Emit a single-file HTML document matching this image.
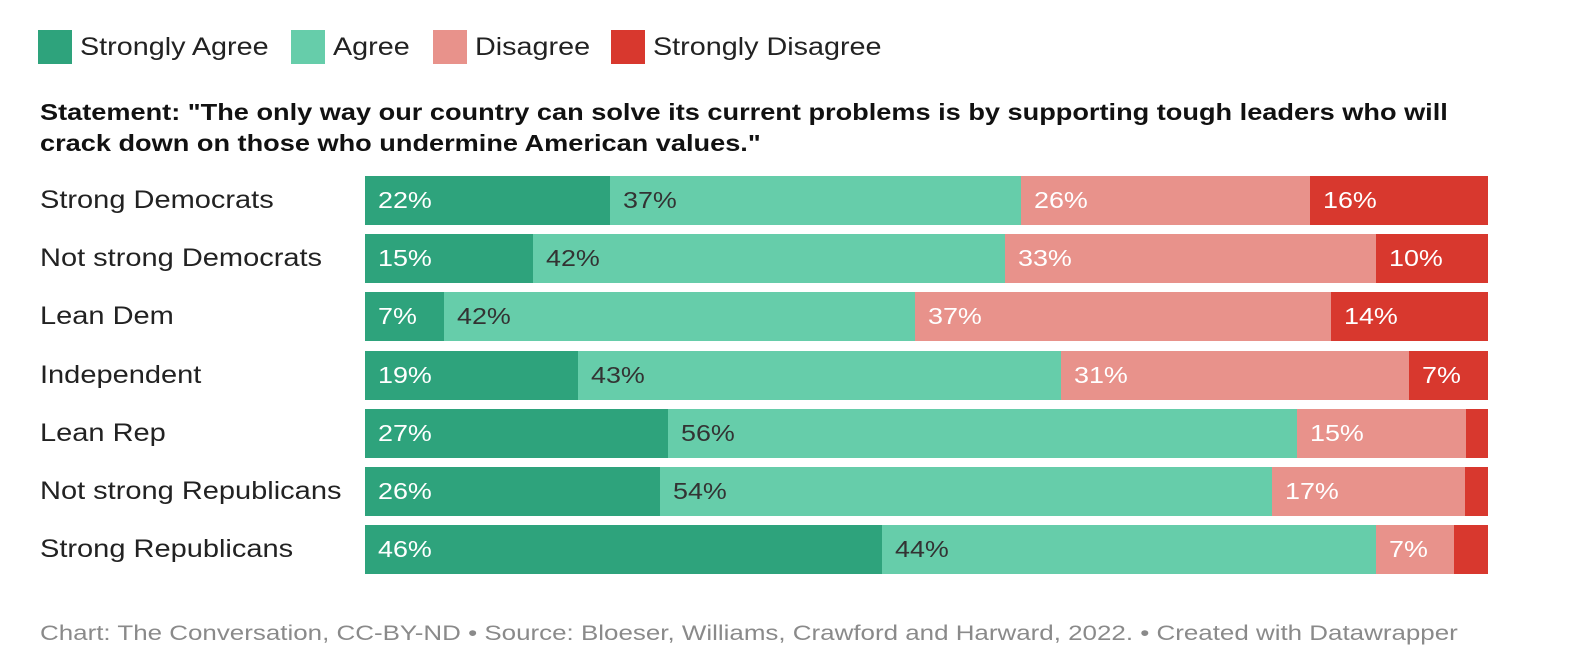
<!DOCTYPE html>
<html><head><meta charset="utf-8">
<style>
body{margin:0;width:1570px;height:670px;background:#fff;font-family:"Liberation Sans",Arial,sans-serif;position:relative;overflow:hidden;color:#222}
.leg{position:absolute;top:30px;height:34px}
.sw{position:absolute;left:0;top:0;width:34px;height:34px}
.lt{position:absolute;left:42px;top:0;line-height:34px;font-size:25px;color:#222;white-space:nowrap;transform:scaleX(1.15);transform-origin:0 50%}
.title{position:absolute;left:40px;top:97px;font-size:23px;font-weight:bold;line-height:31px;color:#111;white-space:nowrap;transform:scaleX(1.18);transform-origin:0 0}
.rl{position:absolute;left:40px;font-size:25px;color:#222;line-height:49px;white-space:nowrap;transform:scaleX(1.16);transform-origin:0 50%}
.seg{position:absolute;height:49px}
.val{position:absolute;font-size:23px;line-height:49px;white-space:nowrap;transform:scaleX(1.17);transform-origin:0 50%}
.foot{position:absolute;left:40px;top:622px;font-size:21px;color:#8a8a8a;white-space:nowrap;transform:scaleX(1.235);transform-origin:0 0}
</style></head><body>
<div class="leg" style="left:38px"><div class="sw" style="background:#2ea37c"></div><div class="lt">Strongly Agree</div></div>
<div class="leg" style="left:291px"><div class="sw" style="background:#66cdaa"></div><div class="lt">Agree</div></div>
<div class="leg" style="left:433px"><div class="sw" style="background:#e8928b"></div><div class="lt">Disagree</div></div>
<div class="leg" style="left:611px"><div class="sw" style="background:#d8382e"></div><div class="lt">Strongly Disagree</div></div>
<div class="title">Statement: "The only way our country can solve its current problems is by supporting tough leaders who will<br>crack down on those who undermine American values."</div>
<div id="chart"></div>
<div class="foot">Chart: The Conversation, CC-BY-ND • Source: Bloeser, Williams, Crawford and Harward, 2022. • Created with Datawrapper</div>
<script>
const categories=["Strong Democrats","Not strong Democrats","Lean Dem","Independent","Lean Rep","Not strong Republicans","Strong Republicans"];
const stronglyAgree=[22,15,7,19,27,26,46];
const agree=[37,42,42,43,56,54,44];
const disagree=[26,33,37,31,15,17,7];
const stronglyDisagree=[16,10,14,7,2,2,3];
const seriesNames=["strongly-agree","agree","disagree","strongly-disagree"];
const colors=["#2ea37c","#66cdaa","#e8928b","#d8382e"];
const textColors=["#fff","#333","#fff","#fff"];
const x0=365,W=1123,y0=176,step=58.2;
const chart=document.getElementById('chart');
categories.forEach((c,i)=>{
  const y=y0+i*step;
  const l=document.createElement('div');l.className='rl';l.style.top=y+'px';l.textContent=c;
  
  
  chart.appendChild(l);
  const vals=[stronglyAgree[i],agree[i],disagree[i],stronglyDisagree[i]];
  const tot=vals.reduce((a,b)=>a+b,0);
  let x=x0;
  vals.forEach((v,j)=>{
    const w=v/tot*W;
    const s=document.createElement('div');s.className='seg';
    s.style.left=x+'px';s.style.top=y+'px';s.style.width=(w+0.5)+'px';s.style.background=colors[j];
    
    
    chart.appendChild(s);
    if(v>=5){
      const t=document.createElement('div');t.className='val';
      t.style.left=(x+13)+'px';t.style.top=y+'px';t.style.color=textColors[j];t.textContent=v+'%';
      
      
      chart.appendChild(t);
    }
    x+=w;
  });
});
</script>
</body></html>
